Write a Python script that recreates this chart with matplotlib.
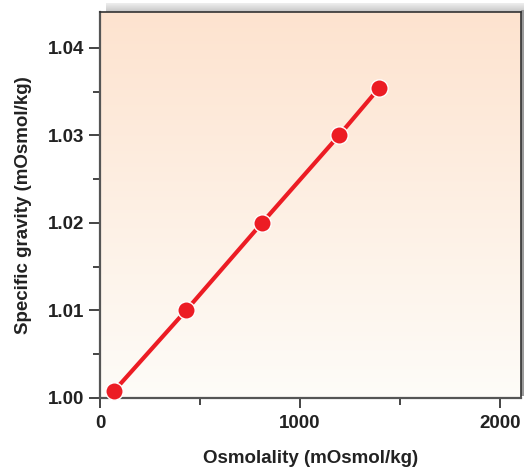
import matplotlib
matplotlib.use("Agg")
import matplotlib.pyplot as plt
import numpy as np
from matplotlib.patches import Rectangle

osmolality = [70, 430, 810, 1195, 1395]
specific_gravity = [1.0008, 1.0100, 1.0200, 1.0300, 1.0354]
x_ticks = [0, 1000, 2000]
y_ticks = [1.00, 1.01, 1.02, 1.03, 1.04]
y_tick_labels = ["1.00", "1.01", "1.02", "1.03", "1.04"]

plt.rcParams["font.family"] = ["Liberation Sans", "DejaVu Sans"]

fig = plt.figure(figsize=(5.25, 4.71), dpi=100)
L, B, R, T = 100/525, (471-398)/471, 521/525, (471-12)/471
ax = fig.add_axes([L, B, R-L, T-B])

# shadow (top band gradient + right edge)
fw, fh = 525, 471
vals = np.linspace(0.93, 0.78, 10).reshape(-1, 1)
shadow_img = np.repeat(vals[:, :, None], 3, axis=2)
sax = fig.add_axes([(106)/fw, (471-12)/fh, (524-106)/fw, 9/fh], zorder=-5)
sax.imshow(shadow_img[::-1], extent=[0, 1, 0, 1], aspect="auto", origin="lower")
sax.axis("off")
fig.patches.append(Rectangle((521/fw, B + 2/fh), 3/fw, T - B, transform=fig.transFigure,
                             facecolor="#9a9a9a", edgecolor="none", zorder=-5))

ax.set_xlim(0, 2105)
ax.set_ylim(1.0, 1.0441)
ax.set_facecolor("none")

grad = np.linspace(0, 1, 256).reshape(-1, 1)
top = np.array([253, 227, 207]) / 255
bot = np.array([254, 252, 248]) / 255
img = bot + (top - bot) * grad[:, :, None] * np.ones((1, 1, 3))
ax.imshow(img, extent=[0, 1, 0, 1], transform=ax.transAxes, origin="lower",
          aspect="auto", zorder=-1)

ax.plot(osmolality, specific_gravity, color="#ec1c24", lw=3.0, zorder=3, solid_capstyle="round")
ax.plot(osmolality, specific_gravity, "o", color="#ec1c24", ms=12.5, mec="white", mew=1.0,
        zorder=4, clip_on=False)

for s in ["left", "bottom"]:
    ax.spines[s].set_color("#555555")
    ax.spines[s].set_linewidth(1.6)
for s in ["top", "right"]:
    ax.spines[s].set_color("#333333")
    ax.spines[s].set_linewidth(1.2)

ax.set_xticks(x_ticks)
ax.set_xticks([500, 1500], minor=True)
ax.set_yticks(y_ticks)
ax.set_yticklabels(y_tick_labels)
ax.set_yticks([1.005, 1.015, 1.025, 1.035], minor=True)
ax.tick_params(which="major", length=7, width=1.4, color="#444444", labelsize=13.5, pad=3)
ax.tick_params(which="minor", length=5, width=1.4, color="#444444")
ax.tick_params(axis="y", which="major", length=8)
ax.tick_params(axis="x", which="major", pad=5)
for lab in ax.get_xticklabels() + ax.get_yticklabels():
    lab.set_fontweight("bold")
    lab.set_color("#222222")

ax.set_xlabel("Osmolality (mOsmol/kg)", fontsize=13.5, fontweight="bold", color="#222222", labelpad=13)
ax.set_ylabel("Specific gravity (mOsmol/kg)", fontsize=13.5, fontweight="bold", color="#222222", labelpad=12)

fig.savefig("out.png", dpi=100)
